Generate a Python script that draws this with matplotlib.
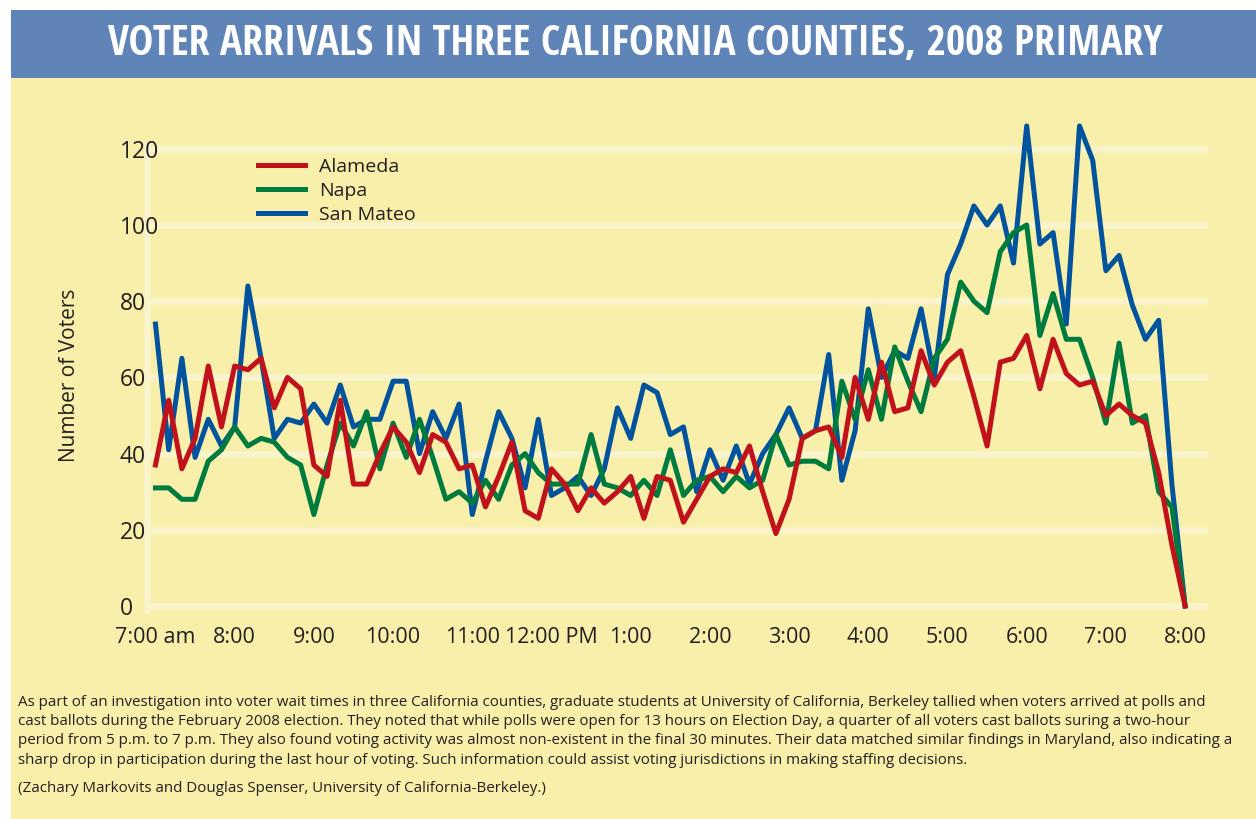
import numpy as np
import matplotlib
matplotlib.use('Agg')
import matplotlib.pyplot as plt
from matplotlib import font_manager
from matplotlib.patches import Rectangle

# voter arrivals, every 10 minutes from 7:00 am to 8:00 pm
minutes = np.arange(0, 790, 10)

alameda = [37, 54, 36, 44, 63, 47, 63, 62, 65, 52, 60, 57, 37, 34, 54, 32, 32, 40, 47, 43,
           35, 45, 43, 36, 37, 26, 34, 43, 25, 23, 36, 32, 25, 31, 27, 30, 34, 23, 34, 33,
           22, 28, 34, 36, 35, 42, 30, 19, 28, 44, 46, 47, 39, 60, 49, 64, 51, 52, 67, 58,
           64, 67, 55, 42, 64, 65, 71, 57, 70, 61, 58, 59, 50, 53, 50, 48, 35, 16, 0]
napa = [31, 31, 28, 28, 38, 41, 47, 42, 44, 43, 39, 37, 24, 37, 48, 42, 51, 36, 48, 39,
        49, 39, 28, 30, 27, 33, 28, 37, 40, 35, 32, 32, 32, 45, 32, 31, 29, 33, 29, 41,
        29, 33, 34, 30, 34, 31, 33, 45, 37, 38, 38, 36, 59, 49, 62, 49, 68, 59, 51, 65,
        70, 85, 80, 77, 93, 98, 100, 71, 82, 70, 70, 60, 48, 69, 48, 50, 30, 26, 0]
san_mateo = [74, 41, 65, 39, 49, 42, 47, 84, 65, 44, 49, 48, 53, 48, 58, 47, 49, 49, 59, 59,
             40, 51, 44, 53, 24, 38, 51, 44, 31, 49, 29, 31, 34, 29, 36, 52, 44, 58, 56, 45,
             47, 30, 41, 33, 42, 32, 40, 45, 52, 44, 46, 66, 33, 46, 78, 60, 67, 65, 78, 60,
             87, 95, 105, 100, 105, 90, 126, 95, 98, 74, 126, 117, 88, 92, 79, 70, 75, 32, 0]

hour_labels = ['7:00 am', '8:00', '9:00', '10:00', '11:00', '12:00 PM', '1:00', '2:00',
               '3:00', '4:00', '5:00', '6:00', '7:00', '8:00']
y_ticks = [0, 20, 40, 60, 80, 100, 120]

title = 'VOTER ARRIVALS IN THREE CALIFORNIA COUNTIES, 2008 PRIMARY'
notes = [
    'As part of an investigation into voter wait times in three California counties, graduate students at University of California, Berkeley tallied when voters arrived at polls and',
    'cast ballots during the February 2008 election. They noted that while polls were open for 13 hours on Election Day, a quarter of all voters cast ballots suring a two-hour',
    'period from 5 p.m. to 7 p.m. They also found voting activity was almost non-existent in the final 30 minutes. Their data matched similar findings in Maryland, also indicating a',
    'sharp drop in participation during the last hour of voting. Such information could assist voting jurisdictions in making staffing decisions.',
]
credit = '(Zachary Markovits and Douglas Spenser, University of California-Berkeley.)'

yellow = '#f8efaa'
cream = '#faf4cc'
bar_blue = '#5f84b7'
dark = '#231f20'
red = '#c1121c'
green = '#007b3e'
blue = '#00539c'

W, H = 1256, 819
plt.rcParams['font.family'] = ['Open Sans', 'DejaVu Sans']


def pick_condensed():
    cands = [('Liberation Sans Narrow', 'normal'), ('Open Sans Condensed', 'normal'),
             ('Roboto Condensed', 'normal'), ('Noto Sans', 'condensed'),
             ('Open Sans', 'condensed'), ('DejaVu Sans', 'condensed')]
    for fam, st in cands:
        fp = font_manager.FontProperties(family=fam, weight='bold', stretch=st)
        try:
            path = font_manager.findfont(fp, fallback_to_default=False)
        except ValueError:
            continue
        low = path.lower()
        if 'narrow' in low or 'cond' in low:
            return fp
    return font_manager.FontProperties(family='DejaVu Sans', weight='bold')


fig = plt.figure(figsize=(W / 100, H / 100), dpi=100)
fig.patch.set_facecolor('white')
fig.add_artist(Rectangle((11 / W, 0), 1 - 11 / W, 1 - 78 / H, transform=fig.transFigure,
                         facecolor=yellow, edgecolor='none', zorder=-10))
fig.add_artist(Rectangle((11 / W, 1 - 78 / H), 1 - 11 / W, 68 / H, transform=fig.transFigure,
                         facecolor=bar_blue, edgecolor='none', zorder=-10))

renderer = fig.canvas.get_renderer()

# title, sized to the banner width
tfp = pick_condensed()
tt = fig.text(635.5 / W, 1 - 44 / H, title, color='white', fontproperties=tfp,
              fontsize=30, ha='center', va='center')
w = tt.get_window_extent(renderer).width
tt.set_fontsize(min(30 * 1055 / w, 37))

# chart
ax = fig.add_axes([147 / W, 1 - 613.6 / H, 1060.5 / W, 502.9 / H])
ax.set_facecolor('none')
hours = 7 + minutes / 60
l_sm, = ax.plot(hours, san_mateo, color=blue, lw=3.6, label='San Mateo', zorder=3)
l_na, = ax.plot(hours, napa, color=green, lw=3.6, label='Napa', zorder=4)
l_al, = ax.plot(hours, alameda, color=red, lw=3.6, label='Alameda', zorder=5)

ax.set_xlim(6.893, 20.283)
ax.set_ylim(-2, 130)

ax.set_yticks(y_ticks)
ax.yaxis.grid(True, color=cream, linewidth=4.7)
ax.set_axisbelow(True)
ax.tick_params(axis='y', length=0, pad=19.5, labelsize=16.5, labelcolor=dark)
for lbl in ax.get_yticklabels():
    lbl.set_horizontalalignment('left')

hour_pos = np.arange(7, 21)
ax.set_xticks(hour_pos)
ax.set_xticklabels(hour_labels)
ax.set_xticks(hour_pos[1:-1], minor=True)
ax.tick_params(axis='x', which='major', length=0, pad=15, labelsize=15.5, labelcolor=dark)
ax.tick_params(axis='x', which='minor', direction='in', length=8, width=4.7, color=cream)

for s in ['top', 'right']:
    ax.spines[s].set_visible(False)
ax.spines['bottom'].set_position(('data', 0))
ax.spines['bottom'].set_visible(False)
ax.spines['left'].set_color(cream)
ax.spines['left'].set_linewidth(4.7)
ax.spines['left'].set_bounds(-1, 121)
ax.spines['left'].set_zorder(0.1)

ax.set_ylabel('Number of Voters', fontsize=15, color=dark)
ax.yaxis.set_label_coords(-0.0635, 0.4745)

leg = ax.legend(handles=[l_al, l_na, l_sm], loc='upper left',
                bbox_to_anchor=(258 / W, 1 - 158 / H), bbox_transform=fig.transFigure,
                frameon=False, fontsize=14, handlelength=2.4, handletextpad=0.75,
                labelspacing=0.3, borderpad=0, borderaxespad=0)
for txt in leg.get_texts():
    txt.set_color(dark)

# notes under the chart
note_y = [702, 721.5, 741, 760.5]
note_texts = []
for line, yy in zip(notes, note_y):
    note_texts.append(fig.text(18 / W, 1 - yy / H, line, fontsize=10, color=dark,
                               ha='left', va='center'))
w = max(t.get_window_extent(renderer).width for t in note_texts)
fs = 10 * 1218 / w
for t in note_texts:
    t.set_fontsize(fs)
fig.text(18 / W, 1 - 789 / H, credit, fontsize=fs, color=dark, ha='left', va='center')

fig.savefig('out.png', dpi=100, facecolor=fig.get_facecolor())
